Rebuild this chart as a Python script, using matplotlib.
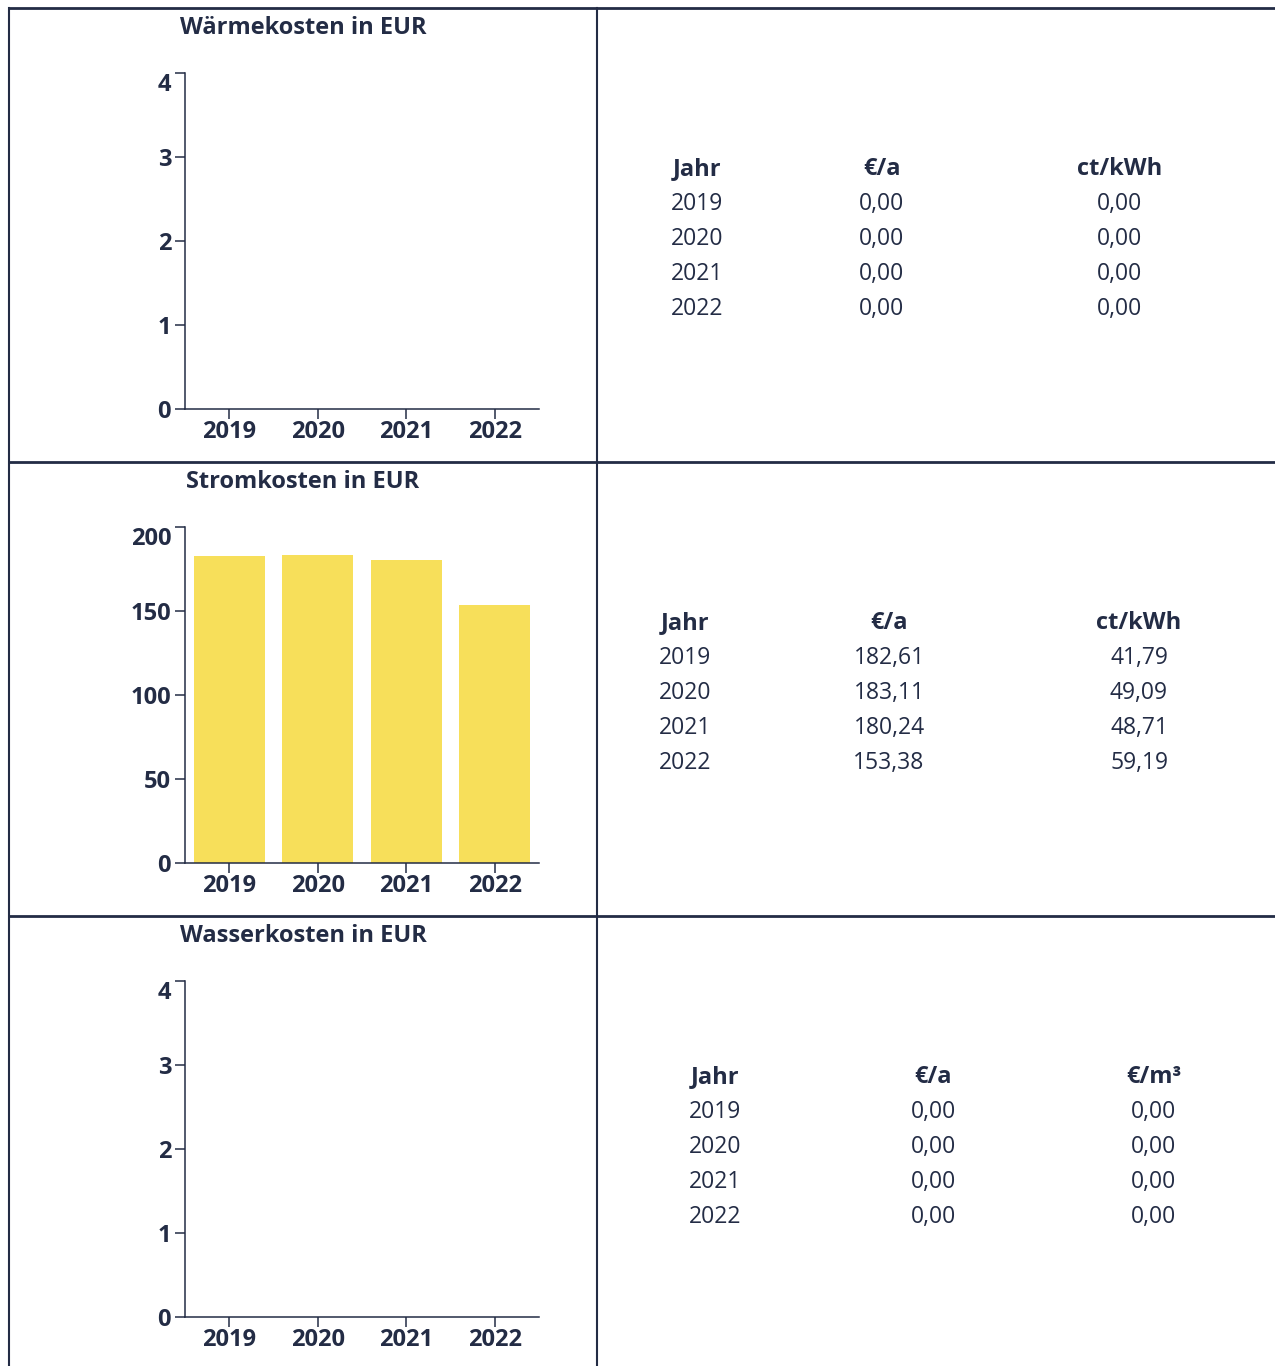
import matplotlib
matplotlib.use("Agg")
import matplotlib.pyplot as plt
from matplotlib.lines import Line2D

# Daten
years = ['2019', '2020', '2021', '2022']
waerme_eur = [0.0, 0.0, 0.0, 0.0]
waerme_ct_kwh = [0.0, 0.0, 0.0, 0.0]
strom_eur = [182.61, 183.11, 180.24, 153.38]
strom_ct_kwh = [41.79, 49.09, 48.71, 59.19]
wasser_eur = [0.0, 0.0, 0.0, 0.0]
wasser_eur_m3 = [0.0, 0.0, 0.0, 0.0]

titles = ['Wärmekosten in EUR', 'Stromkosten in EUR', 'Wasserkosten in EUR']
table_headers = [['Jahr', '€/a', 'ct/kWh'],
                 ['Jahr', '€/a', 'ct/kWh'],
                 ['Jahr', '€/a', '€/m³']]

DARK = '#232c45'
YELLOW = '#f7df5a'
W, H = 1275, 1366

plt.rcParams['font.family'] = ['Open Sans', 'DejaVu Sans']
plt.rcParams['font.size'] = 16

fig = plt.figure(figsize=(W / 100, H / 100), dpi=100)


def fx(x):
    return x / W


def fy(y):
    return 1 - y / H


def fmt(v):
    return f"{v:.2f}".replace('.', ',')


def px_axes(left, top, right, bottom):
    return fig.add_axes([fx(left), fy(bottom), (right - left) / W, (bottom - top) / H])


def draw_bars(ax, values, ymax, step):
    ax.bar(range(len(years)), values, width=0.8, color=YELLOW)
    ax.set_xlim(-0.5, len(years) - 0.5)
    ax.set_ylim(0, ymax)
    ax.set_xticks(range(len(years)))
    ax.set_xticklabels(years, fontweight='bold', color=DARK)
    yt = list(range(0, ymax + 1, step))
    ax.set_yticks(yt)
    ax.set_yticklabels([str(t) for t in yt], fontweight='bold', color=DARK)
    ax.get_yticklabels()[-1].set_va('top')
    for s in ['top', 'right']:
        ax.spines[s].set_visible(False)
    for s in ['left', 'bottom']:
        ax.spines[s].set_color(DARK)
        ax.spines[s].set_linewidth(1.1)
    ax.tick_params(axis='both', length=7, width=1.1, color=DARK, labelsize=17)
    ax.tick_params(axis='x', pad=1)
    ax.tick_params(axis='y', pad=3)
    ax.patch.set_alpha(0)


row_tops = [8, 462, 916]
series = [(waerme_eur, waerme_ct_kwh, 4, 1),
          (strom_eur, strom_ct_kwh, 200, 50),
          (wasser_eur, wasser_eur_m3, 4, 1)]
col_centers = [[697, 882, 1120], [685, 889, 1139], [715, 933, 1154]]

for i, top in enumerate(row_tops):
    eur, per_unit, ymax, step = series[i]
    fig.text(fx(303), fy(top + 20), titles[i], ha='center', va='center',
             fontsize=17, fontweight='bold', color=DARK)
    ax = px_axes(185, top + 65, 539, top + 401)
    draw_bars(ax, eur, ymax, step)

    cx = col_centers[i]
    hy = top + 161
    for c, h in zip(cx, table_headers[i]):
        fig.text(fx(c), fy(hy), h, ha='center', va='center',
                 fontsize=17, fontweight='bold', color=DARK)
    for r, (yr, a, b) in enumerate(zip(years, eur, per_unit)):
        y = hy + 35 * (r + 1)
        for c, t in zip(cx, [yr, fmt(a), fmt(b)]):
            fig.text(fx(c), fy(y), t, ha='center', va='center',
                     fontsize=16.5, color=DARK)

# Rahmenlinien
lines = [((9, 1275), (8, 8), 2.0),
         ((9, 1275), (462, 462), 2.0),
         ((9, 1275), (916, 916), 2.0),
         ((9, 9), (8, 1366), 1.5),
         ((597, 597), (8, 1366), 1.5)]
for xs, ys, lw in lines:
    fig.add_artist(Line2D([fx(xs[0]), fx(xs[1])], [fy(ys[0]), fy(ys[1])],
                          color=DARK, linewidth=lw))

fig.savefig('out.png', dpi=100)
